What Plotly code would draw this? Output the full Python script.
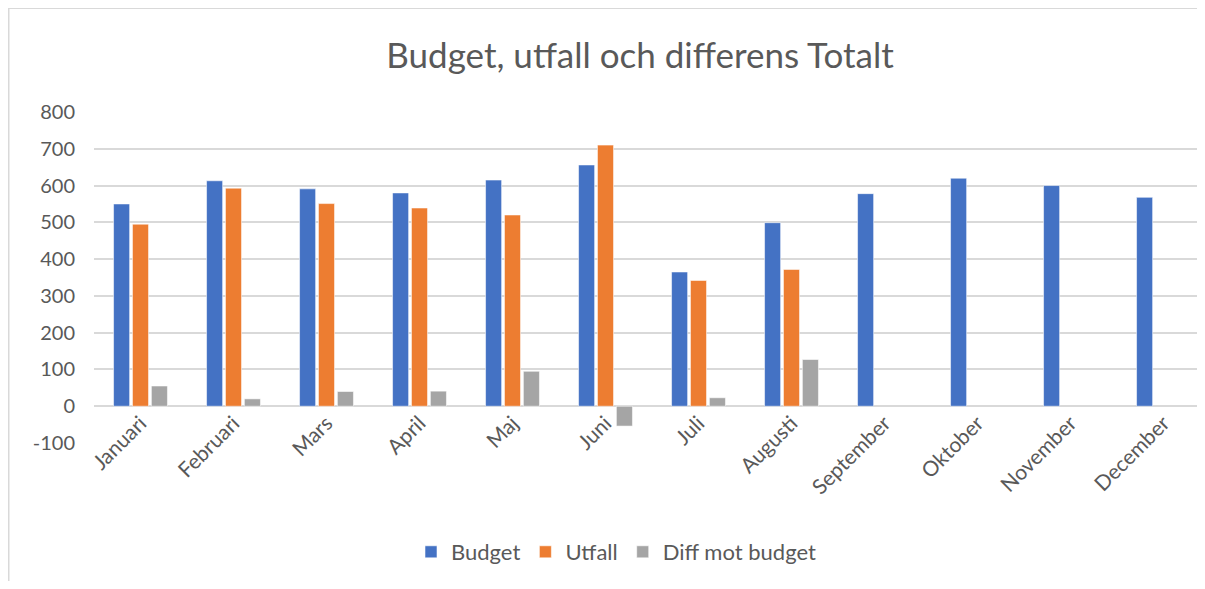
import plotly.graph_objects as go

MONTHS = [
    "Januari", "Februari", "Mars", "April", "Maj", "Juni",
    "Juli", "Augusti", "September", "Oktober", "November", "December",
]
BUDGET = [550, 613, 591, 580, 615, 656, 365, 499, 578, 620, 600, 568]
UTFALL = [495, 593, 551, 539, 520, 710, 342, 372, None, None, None, None]
DIFF = [55, 20, 40, 41, 95, -54, 23, 127, None, None, None, None]

Y_TICKS = [-100, 0, 100, 200, 300, 400, 500, 600, 700, 800]
Y_TICK_LABELS = [str(v) for v in Y_TICKS]  # plain hyphen, as in Excel

COLORS = {
    "Budget": "#4472C4",
    "Utfall": "#ED7D31",
    "Diff mot budget": "#A5A5A5",
}
TEXT_COLOR = "#595959"
GRID_COLOR = "#D9D9D9"
FONT = "Lato, 'Open Sans', Arial"

# the page body adds an 8px margin, so the figure is kept small enough
# not to overflow the window and positions below are shifted by it
FIG_W, FIG_H = 1189, 573
PLOT_L, PLOT_R = 86, 1189
PLOT_T, PLOT_B = 104.3, 434.7
ZERO_Y = 397.7
CAT_W = 93

fig = go.Figure()

for name, values in [("Budget", BUDGET), ("Utfall", UTFALL), ("Diff mot budget", DIFF)]:
    fig.add_trace(
        go.Bar(
            x=MONTHS,
            y=values,
            name=name,
            marker=dict(
                color=COLORS[name],
                line=dict(color="rgba(255,255,255,0.55)", width=1),
            ),
        )
    )

fig.update_layout(
    width=FIG_W,
    height=FIG_H,
    title=dict(
        text="Budget, utfall och differens Totalt",
        x=632 / FIG_W,
        xref="container",
        xanchor="center",
        y=1 - 48 / FIG_H,
        yref="container",
        yanchor="middle",
        font=dict(family=FONT, size=35, color=TEXT_COLOR),
    ),
    barmode="group",
    bargap=0.39,
    bargroupgap=0.15,
    plot_bgcolor="white",
    paper_bgcolor="white",
    font=dict(family=FONT, size=21, color=TEXT_COLOR),
    margin=dict(
        l=PLOT_L, r=FIG_W - PLOT_R, t=PLOT_T, b=FIG_H - PLOT_B, autoexpand=False
    ),
    showlegend=True,
    legend=dict(
        orientation="h",
        xref="container",
        yref="container",
        x=608 / FIG_W,
        xanchor="center",
        y=1 - 544 / FIG_H,
        yanchor="middle",
        font=dict(family=FONT, size=22, color=TEXT_COLOR),
        itemwidth=30,
    ),
    shapes=[
        # chart area border (only left and top edges are visible)
        dict(
            type="rect",
            xref="paper",
            yref="paper",
            x0=(0.5 - PLOT_L) / (PLOT_R - PLOT_L),
            x1=1.2,
            y0=-0.7,
            y1=(PLOT_B - 0.5) / (PLOT_B - PLOT_T),
            line=dict(color=GRID_COLOR, width=2),
            fillcolor="rgba(0,0,0,0)",
            layer="below",
        )
    ],
)

fig.update_xaxes(
    type="category",
    range=[-0.5, -0.5 + (PLOT_R - PLOT_L) / CAT_W],
    tickangle=-45,
    anchor="free",
    position=(PLOT_B - ZERO_Y) / (PLOT_B - PLOT_T),
    showgrid=False,
    showline=False,
    ticks="",
    automargin=False,
    tickfont=dict(family=FONT, size=21, color=TEXT_COLOR),
)

fig.update_yaxes(
    range=[-100, 800],
    tickvals=Y_TICKS,
    ticktext=Y_TICK_LABELS,
    showgrid=True,
    gridcolor=GRID_COLOR,
    gridwidth=2,
    zeroline=True,
    zerolinecolor=GRID_COLOR,
    zerolinewidth=2,
    showline=False,
    ticks="",
    ticklabelstandoff=18,
    automargin=False,
    tickfont=dict(family=FONT, size=20, color=TEXT_COLOR),
)

fig.write_html("out.html")
